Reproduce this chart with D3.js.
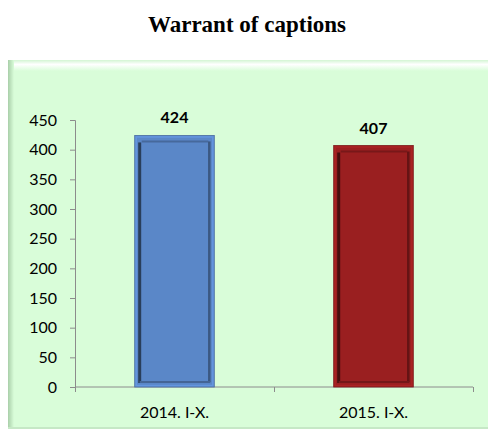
<!DOCTYPE html>
<html><head><meta charset="utf-8">
<script src="https://cdn.jsdelivr.net/npm/d3@7"></script>
<style>body{margin:0;background:#fff}svg{display:block}</style>
</head><body>
<svg id="c" width="488" height="432"></svg>
<script>
const categories = ["2014. I-X.", "2015. I-X."];
const values = [424, 407];
const barColors = ["#5A87C8", "#9A1F20"];
const yTicks = [0, 50, 100, 150, 200, 250, 300, 350, 400, 450];
const title = "Warrant of captions";

const svg = d3.select("#c");
const defs = svg.append("defs");
const tg = defs.append("linearGradient").attr("id","topg").attr("x1",0).attr("y1",0).attr("x2",0).attr("y2",1);
tg.append("stop").attr("offset","0%").attr("stop-color","#d3f5d3");
tg.append("stop").attr("offset","40%").attr("stop-color","#ffffff");
tg.append("stop").attr("offset","100%").attr("stop-color","#d9fdd9");
const lg = defs.append("linearGradient").attr("id","leftg").attr("x1",0).attr("y1",0).attr("x2",1).attr("y2",0);
lg.append("stop").attr("offset","0%").attr("stop-color","#a9cfa9");
lg.append("stop").attr("offset","100%").attr("stop-color","#d9fdd9");

// chart area background
svg.append("rect").attr("x",8).attr("y",60).attr("width",480).attr("height",369).attr("fill","#d9fdd9");
svg.append("rect").attr("x",8).attr("y",60).attr("width",480).attr("height",11).attr("fill","url(#topg)");
svg.append("rect").attr("x",8).attr("y",60).attr("width",6).attr("height",369).attr("fill","url(#leftg)");
svg.append("rect").attr("x",8).attr("y",427).attr("width",480).attr("height",2).attr("fill","#c6e8c6");

svg.append("text").attr("x",247).attr("y",32).attr("text-anchor","middle")
  .attr("font-family","Liberation Serif").attr("font-weight","bold").attr("font-size",23)
  .attr("fill","#000").text(title);

const x = d3.scaleBand().domain(categories).range([75,473]).paddingInner(0.6).paddingOuter(0.3);
const y = d3.scaleLinear().domain([0,450]).range([387,120]);

const font = "Lato, 'Open Sans', sans-serif";

// y axis
const ya = svg.append("g").attr("transform","translate(75,0)")
  .call(d3.axisLeft(y).tickValues(yTicks).tickSize(5).tickPadding(13).tickFormat(d3.format("d")));
ya.selectAll("path,line").attr("stroke","#8c8c8c");
ya.selectAll("text").attr("font-family",font).attr("font-size",16).attr("fill","#000");

// x axis
const xb = d3.scaleLinear().domain([0,2]).range([75,473]);
const xa = svg.append("g").attr("transform","translate(0,387)")
  .call(d3.axisBottom(xb).tickValues([0,1,2]).tickSize(5).tickFormat(""));
xa.selectAll("path,line").attr("stroke","#8c8c8c");
xa.select("path").attr("d","M75,0H473");
svg.append("g").selectAll("text").data(categories).join("text")
  .attr("x",d=>x(d)+x.bandwidth()/2).attr("y",418).attr("text-anchor","middle")
  .attr("font-family",font).attr("font-size",16).attr("fill","#000").text(d=>d);

// bars with bevel
const bars = svg.append("g").selectAll("g").data(values).join("g");
bars.each(function(v,i){
  const g = d3.select(this);
  const bx = x(categories[i]), bw = x.bandwidth(), by = y(v), bh = y(0)-y(v);
  const c = d3.color(barColors[i]);
  g.append("rect").attr("x",bx).attr("y",by).attr("width",bw).attr("height",bh).attr("fill",c.formatHex())
    .attr("stroke",c.darker(0.6).formatHex()).attr("stroke-width",0.8);
  g.append("rect").attr("x",bx+1.5).attr("y",by+1.5).attr("width",bw-3).attr("height",bh-3).attr("fill","none")
    .attr("stroke",c.brighter(0.3).formatHex()).attr("stroke-width",1.5);
  g.append("path").attr("d",`M${bx+5},${by+7}V${by+bh-4}`).attr("stroke",c.darker(2.2).formatHex()).attr("stroke-width",3);
  g.append("path").attr("d",`M${bx+7},${by+6}H${bx+bw-6}`).attr("stroke",c.darker(0.7).formatHex()).attr("stroke-width",2);
  g.append("path").attr("d",`M${bx+bw-5},${by+6}V${by+bh-5}`).attr("stroke",c.darker(1.2).formatHex()).attr("stroke-width",2.5);
  g.append("path").attr("d",`M${bx+5},${by+bh-5}H${bx+bw-4}`).attr("stroke",c.darker(0.8).formatHex()).attr("stroke-width",2);
  g.append("text").attr("x",bx+bw/2).attr("y",by-12).attr("text-anchor","middle")
    .attr("font-family",font).attr("font-weight","bold").attr("font-size",16).attr("fill","#000").text(v);
});
</script>
</body></html>
